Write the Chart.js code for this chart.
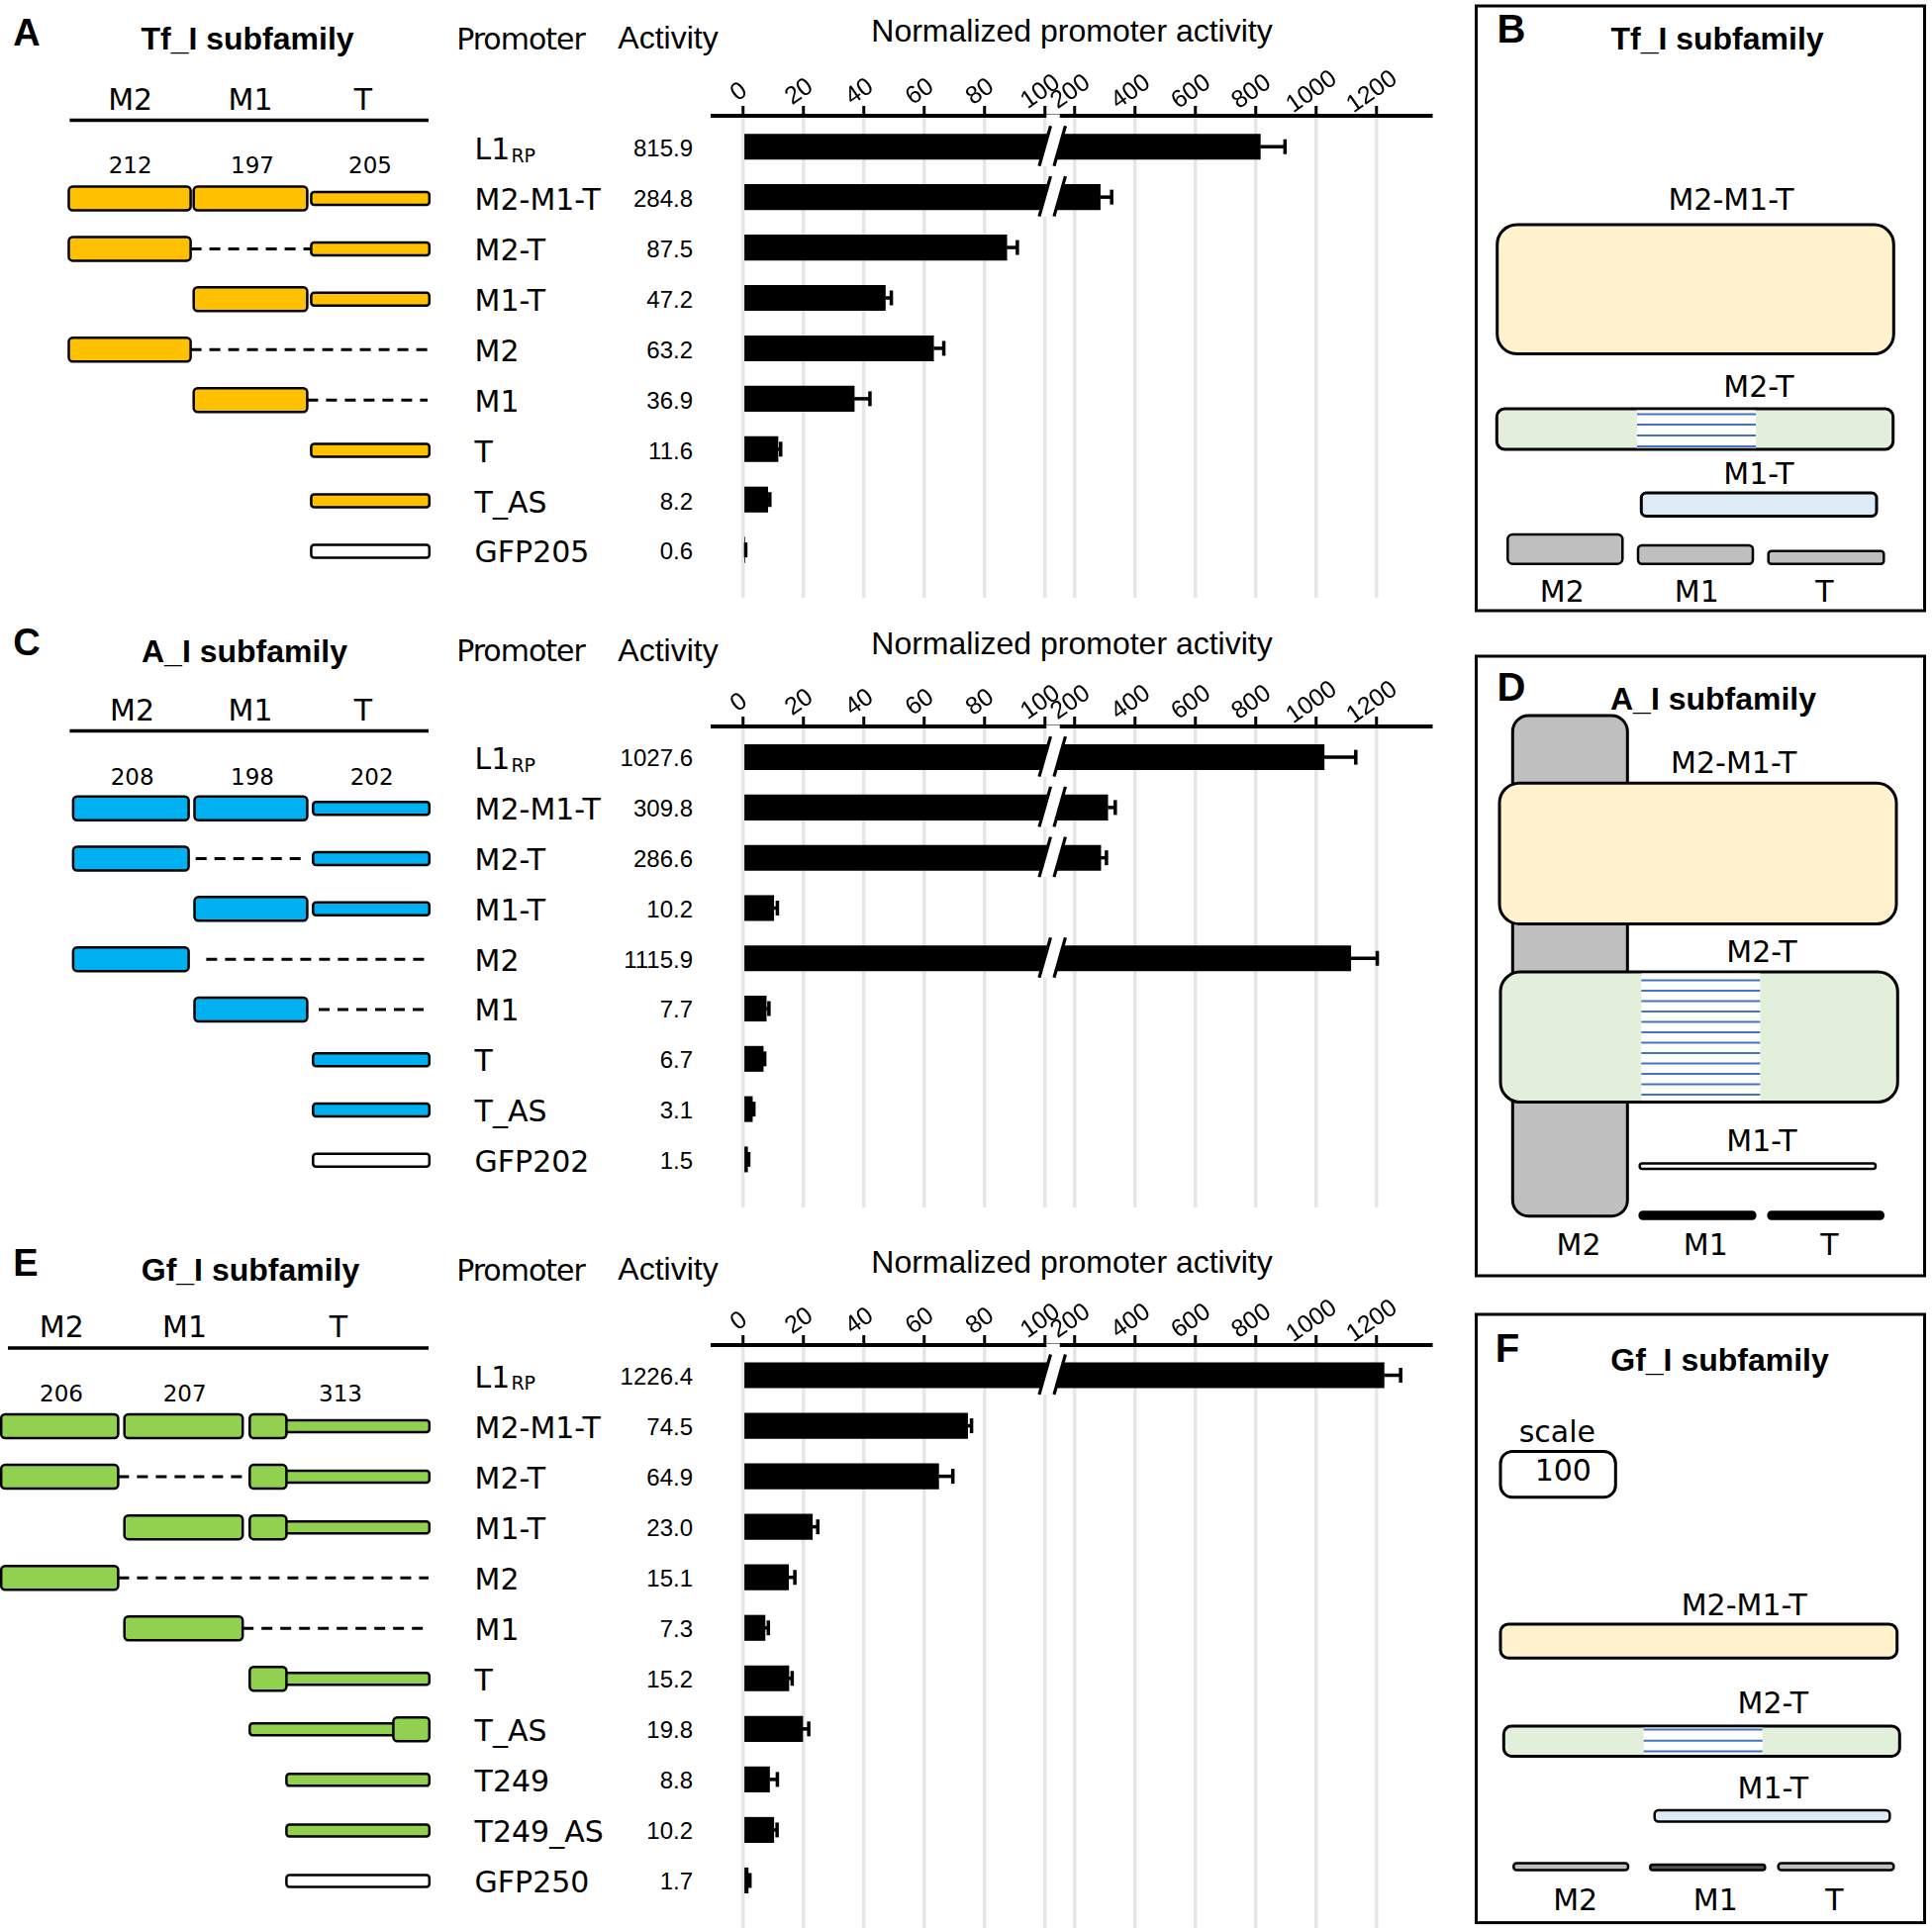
<!DOCTYPE html>
<html>
<head>
<meta charset="utf-8">
<title>Promoter activity of L1 subfamilies</title>
<script src="https://cdn.jsdelivr.net/npm/chart.js@4.4.1/dist/chart.umd.min.js"></script>
<style>
  html, body { margin:0; padding:0; background:#fff; }
  #page { position:relative; width:1952px; height:1948px; overflow:hidden; background:#fff; }
  #page svg { position:absolute; left:0; top:0; }
  #page canvas { position:absolute; }
</style>
</head>
<body>
<div id="page"><svg id="art" width="1952" height="1948" xmlns="http://www.w3.org/2000/svg"></svg></div>
<script>
// ------------------------- DATA -------------------------
const promotersA = ['L1RP','M2-M1-T','M2-T','M1-T','M2','M1','T','T_AS','GFP205'];
const activityA  = [815.9, 284.8, 87.5, 47.2, 63.2, 36.9, 11.6, 8.2, 0.6];
const errorA     = [82, 38, 3.5, 2, 3.4, 5.2, 0.9, 0.7, 0.3];

const promotersC = ['L1RP','M2-M1-T','M2-T','M1-T','M2','M1','T','T_AS','GFP202'];
const activityC  = [1027.6, 309.8, 286.6, 10.2, 1115.9, 7.7, 6.7, 3.1, 1.5];
const errorC     = [105, 25, 19, 1.2, 88, 0.9, 0.5, 0.5, 0.4];

const promotersE = ['L1RP','M2-M1-T','M2-T','M1-T','M2','M1','T','T_AS','T249','T249_AS','GFP250'];
const activityE  = [1226.4, 74.5, 64.9, 23.0, 15.1, 7.3, 15.2, 19.8, 8.8, 10.2, 1.7];
const errorE     = [55, 1.3, 4.7, 1.8, 2.1, 1.1, 1.1, 2, 2.6, 1.1, 0.6];

const tickValues = [0, 20, 40, 60, 80, 100, 200, 400, 600, 800, 1000, 1200];
const segNames = ['M2', 'M1', 'T'];
const segLengthsA = [212, 197, 205];
const segLengthsC = [208, 198, 202];
const segLengthsE = [206, 207, 313];
const scaleBoxValue = 100;

// ------------------------- BROKEN AXIS SCALE -------------------------
const BREAK_AT = 100, FACTOR = 10;
const LinearScale = Chart.registry.getScale('linear');
class BrokenScale extends LinearScale {
  _t(v) { return v <= BREAK_AT ? v * FACTOR : BREAK_AT * FACTOR + (v - BREAK_AT); }
  _ti(t) { return t <= BREAK_AT * FACTOR ? t / FACTOR : BREAK_AT + (t - BREAK_AT * FACTOR); }
  getPixelForValue(v) {
    if (v === null || v === undefined || isNaN(v)) return NaN;
    const t0 = this._t(this.min), t1 = this._t(this.max);
    return this.getPixelForDecimal((this._t(v) - t0) / (t1 - t0));
  }
  getValueForPixel(p) {
    const t0 = this._t(this.min), t1 = this._t(this.max);
    return this._ti(t0 + this.getDecimalForPixel(p) * (t1 - t0));
  }
}
BrokenScale.id = 'broken';
BrokenScale.defaults = LinearScale.defaults;
Chart.register(BrokenScale);

const SANS = "'Liberation Sans', Arial, Helvetica, sans-serif";
const VERD = "'DejaVu Sans', Verdana, sans-serif";

const decoPlugin = {
  id: 'deco',
  afterDatasetsDraw(chart) {
    const ctx = chart.ctx, xs = chart.scales.x;
    const meta = chart.getDatasetMeta(0);
    const ds = chart.data.datasets[0];
    const ca = chart.chartArea;
    const axisY = ca.top + 2;
    const pBreak = xs.getPixelForValue(BREAK_AT);
    ctx.save();
    // error bars
    ctx.strokeStyle = '#000';
    ctx.lineWidth = 3.5;
    meta.data.forEach((bar, i) => {
      const v = ds.data[i].x, e = ds.errors[i];
      const x0 = xs.getPixelForValue(v), x1 = xs.getPixelForValue(v + e);
      const y = bar.y;
      ctx.beginPath(); ctx.moveTo(x0, y); ctx.lineTo(x1, y); ctx.stroke();
      ctx.beginPath(); ctx.moveTo(x1, y - 7.5); ctx.lineTo(x1, y + 7.5); ctx.stroke();
    });
    // break marks on long bars
    const s = 0.284, up = 21, dn = 19.5, cx = pBreak + 7.7;
    meta.data.forEach((bar, i) => {
      if (ds.data[i].x <= BREAK_AT) return;
      const cy = bar.y;
      const L = [[cx - 7.5 - s * dn, cy + dn], [cx - 7.5 + s * up, cy - up]];
      const R = [[cx + 7.5 - s * dn, cy + dn], [cx + 7.5 + s * up, cy - up]];
      ctx.fillStyle = '#fff';
      ctx.beginPath();
      ctx.moveTo(L[0][0], L[0][1]); ctx.lineTo(L[1][0], L[1][1]);
      ctx.lineTo(R[1][0], R[1][1]); ctx.lineTo(R[0][0], R[0][1]);
      ctx.closePath(); ctx.fill();
      ctx.lineWidth = 3.2;
      ctx.beginPath(); ctx.moveTo(L[0][0], L[0][1]); ctx.lineTo(L[1][0], L[1][1]); ctx.stroke();
      ctx.beginPath(); ctx.moveTo(R[0][0], R[0][1]); ctx.lineTo(R[1][0], R[1][1]); ctx.stroke();
    });
    // gap in axis line
    ctx.fillStyle = '#fff';
    ctx.fillRect(pBreak + 2, axisY - 3.5, 13.5, 7);
    // rotated tick labels
    ctx.fillStyle = '#000';
    ctx.font = '25px ' + SANS;
    ctx.textAlign = 'center';
    ctx.textBaseline = 'middle';
    xs.ticks.forEach(t => {
      const x = xs.getPixelForValue(t.value);
      ctx.save();
      ctx.translate(x - 4, axisY - 26);
      ctx.rotate(-35 * Math.PI / 180);
      ctx.fillText(String(t.value), 0, 0);
      ctx.restore();
    });
    ctx.restore();
  }
};

const page = document.getElementById('page');
const PLOT_LEFT = 720, PLOT_W = 726;
function buildChart(values, errors, g) {
  const W = 860, padL = 120, padTop = 70;
  const top = g.axisY - 2;
  const areaH = g.bottom - top;
  const H = Math.round(padTop + 10 + areaH);
  const canvas = document.createElement('canvas');
  canvas.width = W; canvas.height = H;
  canvas.style.width = W + 'px'; canvas.style.height = H + 'px';
  page.appendChild(canvas);
  const ymin = -(g.row0 - top) / g.spacing;
  const chart = new Chart(canvas, {
    type: 'bar',
    data: {
      datasets: [{
        data: values.map((v, i) => ({ x: v, y: i })),
        errors: errors,
        backgroundColor: '#000',
        borderWidth: 0,
        barThickness: g.spacing * 0.5
      }]
    },
    options: {
      indexAxis: 'y',
      responsive: false,
      maintainAspectRatio: false,
      animation: false,
      devicePixelRatio: 1,
      events: [],
      layout: { padding: { left: padL, right: W - padL - PLOT_W, top: padTop, bottom: 0 } },
      plugins: { legend: { display: false }, tooltip: { enabled: false } },
      scales: {
        x: {
          type: 'broken', position: 'top',
          min: -10.08, max: 1382.7,
          afterBuildTicks: sc => { sc.ticks = tickValues.map(v => ({ value: v })); },
          grid: { color: '#e6e6e6', lineWidth: 3.5, tickColor: '#000', tickWidth: 3, tickLength: 10, drawOnChartArea: true },
          border: { color: '#000', width: 4 },
          ticks: { display: false }
        },
        y: {
          type: 'linear', display: false, reverse: true, offset: false, bounds: 'data',
          grid: { offset: false },
          min: ymin, max: ymin + areaH / g.spacing
        }
      }
    },
    plugins: [decoPlugin]
  });
  const ca = chart.chartArea;
  const realH = ca.bottom - ca.top;
  if (Math.abs(realH - areaH) > 0.5) {
    chart.options.scales.y.max = ymin + realH / g.spacing;
    chart.update();
  }
  const offX = PLOT_LEFT - chart.chartArea.left;
  const offY = top - chart.chartArea.top;
  canvas.style.left = offX + 'px';
  canvas.style.top = offY + 'px';
  return i => offY + chart.scales.y.getPixelForValue(i);
}

// ------------------------- SVG HELPERS -------------------------
const NS = 'http://www.w3.org/2000/svg';
const art = document.getElementById('art');
function el(tag, attrs) {
  const e = document.createElementNS(NS, tag);
  for (const k in attrs) e.setAttribute(k, attrs[k]);
  art.appendChild(e);
  return e;
}
function text(x, y, str, size, o = {}) {
  const t = el('text', {
    x, y, 'font-size': size, 'font-family': o.family || VERD,
    'font-weight': o.weight || 'normal', 'text-anchor': o.anchor || 'middle',
    'dominant-baseline': 'central', fill: '#000'
  });
  if (o.ls) t.setAttribute('letter-spacing', o.ls);
  t.textContent = str;
  return t;
}
function rbox(x, y, w, h, r, fill, sw) {
  return el('rect', { x, y, width: w, height: h, rx: r, ry: r, fill, stroke: '#000', 'stroke-width': sw || 2.5 });
}
function dash(x1, x2, y) {
  el('line', { x1, y1: y, x2, y2: y, stroke: '#000', 'stroke-width': 3, 'stroke-dasharray': '11 8' });
}
function promoterLabel(x, y, name) {
  if (name === 'L1RP') {
    const t = text(x, y, 'L1', 30, { anchor: 'start' });
    const w = t.getComputedTextLength();
    text(x + w + 1, y + 6, 'RP', 19, { anchor: 'start' });
  } else {
    text(x, y, name, 30, { anchor: 'start' });
  }
}

// ------------------------- LEFT PANELS -------------------------
function leftPanel(p) {
  const rowY = buildChart(p.values, p.errors, p.geom);
  // headers
  text(p.letter.x, p.letter.y, p.letter.s, 38, { family: SANS, weight: 'bold' });
  text(p.title.x, p.title.y, p.title.s, 32, { family: SANS, weight: 'bold' });
  text(526, p.hdrY, 'Promoter', 30, { ls: -1 });
  text(675, p.hdrY - 1, 'Activity', 32, { family: SANS });
  text(1083, p.hdrY - 8, 'Normalized promoter activity', 32, { family: SANS });
  // segment header
  el('line', { x1: p.line.x1, y1: p.line.y, x2: 433, y2: p.line.y, stroke: '#000', 'stroke-width': 3.5 });
  segNames.forEach((n, k) => text(p.segLabelX[k], p.line.y - 21, n, 30));
  p.lengths.forEach((L, k) => text(p.segNumX[k], p.line.y + 46, String(L), 23));
  // rows
  p.names.forEach((name, i) => {
    const y = rowY(i);
    promoterLabel(479.6, y + 2, name);
    text(700, y + 1, p.values[i].toFixed(1), 24, { family: SANS, anchor: 'end' });
    const sy = y + 1;
    (p.rows[i] || []).forEach(part => {
      if (Array.isArray(part)) { dash(part[0], part[1], sy); return; }
      const seg = p.seg;
      const big = 24, thin = 13;
      if (part === 'M2' || part === 'M1') {
        rbox(seg[part][0], sy - big / 2, seg[part][1] - seg[part][0], big, 4, p.color);
      } else if (part === 'T') {
        if (seg.Tk) {
          rbox(seg.Tk[1] - 3, sy - 6, seg.T[1] - seg.Tk[1] + 3, 12, 3, p.color);
          rbox(seg.Tk[0], sy - big / 2, seg.Tk[1] - seg.Tk[0], big, 4, p.color);
        } else {
          rbox(seg.T[0], sy - thin / 2, seg.T[1] - seg.T[0], thin, 3, p.color);
        }
      } else if (part === 'Tw') {
        rbox(seg.T[0], sy - thin / 2, seg.T[1] - seg.T[0], thin, 3, '#fff');
      } else if (part === 'TAS') {
        rbox(seg.Tk[0], sy - 6, 150, 12, 3, p.color);
        rbox(397.4, sy - big / 2, seg.T[1] - 397.4, big, 4, p.color);
      } else if (part === 'T249') {
        rbox(seg.Tk[1], sy - 6, seg.T[1] - seg.Tk[1], 12, 3, p.color);
      } else if (part === 'T249w') {
        rbox(seg.Tk[1], sy - 6, seg.T[1] - seg.Tk[1], 12, 3, '#fff');
      }
    });
  });
}

leftPanel({
  values: activityA, errors: errorA, names: promotersA, lengths: segLengthsA,
  geom: { axisY: 119.3, row0: 148.5, spacing: 50.9, bottom: 604 },
  letter: { x: 27, y: 33, s: 'A' }, title: { x: 250, y: 39, s: 'Tf_I subfamily' }, hdrY: 39,
  line: { x1: 70.4, y: 121.4 }, segLabelX: [131.7, 253, 367], segNumX: [131.7, 255, 374],
  color: '#FFC000',
  seg: { M2: [69.5, 192.6], M1: [195.7, 310.4], T: [314.4, 433.8] },
  rows: [[], ['M2', 'M1', 'T'], ['M2', [192.6, 314.4], 'T'], ['M1', 'T'], ['M2', [192.6, 432]],
         ['M1', [310.4, 432]], ['T'], ['T'], ['Tw']]
});
leftPanel({
  values: activityC, errors: errorC, names: promotersC, lengths: segLengthsC,
  geom: { axisY: 735.9, row0: 765, spacing: 50.8, bottom: 1220 },
  letter: { x: 27, y: 649, s: 'C' }, title: { x: 247, y: 657.6, s: 'A_I subfamily' }, hdrY: 657.6,
  line: { x1: 70.4, y: 738.6 }, segLabelX: [133.6, 253, 367], segNumX: [133.6, 255, 375.6],
  color: '#00B0F0',
  seg: { M2: [73.9, 190.6], M1: [196.5, 310.4], T: [316.3, 433.8] },
  rows: [[], ['M2', 'M1', 'T'], ['M2', [197.7, 309], 'T'], ['M1', 'T'], ['M2', [208.4, 433]],
         ['M1', [322, 433]], ['T'], ['T'], ['Tw']]
});
leftPanel({
  values: activityE, errors: errorE, names: promotersE, lengths: segLengthsE,
  geom: { axisY: 1360.5, row0: 1389, spacing: 51.0, bottom: 1948 },
  letter: { x: 26, y: 1276, s: 'E' }, title: { x: 253, y: 1283, s: 'Gf_I subfamily' }, hdrY: 1283,
  line: { x1: 8, y: 1361.9 }, segLabelX: [62.3, 186.6, 342], segNumX: [62, 186.6, 344],
  color: '#92D050',
  seg: { M2: [1.2, 119.4], M1: [125.7, 245.2], Tk: [252.3, 289.4], T: [252.3, 433.8] },
  rows: [[], ['M2', 'M1', 'T'], ['M2', [119.4, 252.3], 'T'], ['M1', 'T'], ['M2', [119.4, 433]],
         ['M1', [245.2, 433]], ['T'], ['TAS'], ['T249'], ['T249'], ['T249w']]
});

// ------------------------- RIGHT PANELS (B, D, F) -------------------------
const YEL = '#FFF2CC', GRN = '#E2EFDA', BLU = '#DDEBF7', GRY = '#BFBFBF', STR = '#4472C4';
function frame(y1, y2) { el('rect', { x: 1491.5, y: y1, width: 453, height: y2 - y1, fill: 'none', stroke: '#000', 'stroke-width': 3 }); }
function striped(x1, x2, y1, y2, ys) {
  el('rect', { x: x1, y: y1, width: x2 - x1, height: y2 - y1, fill: '#fff' });
  ys.forEach(y => el('line', { x1, y1: y, x2, y2: y, stroke: STR, 'stroke-width': 2 }));
}

// Panel B
frame(6, 617);
text(1527, 29, 'B', 40, { family: SANS, weight: 'bold' });
text(1735, 39, 'Tf_I subfamily', 32, { family: SANS, weight: 'bold' });
text(1749, 201, 'M2-M1-T', 30);
rbox(1512.7, 227, 400.6, 130.6, 20, YEL, 3);
text(1777, 390, 'M2-T', 30);
rbox(1512.3, 413, 400.4, 41, 8, GRN, 3);
striped(1654, 1774, 414.5, 452.5, [418.6, 429, 440, 451]);
text(1777, 478, 'M1-T', 30);
rbox(1658.3, 498, 237.7, 23.5, 5, BLU, 3);
rbox(1523.3, 540, 116, 29.7, 5, GRY, 2.5);
rbox(1655, 551, 116, 18.7, 4, GRY, 2.5);
rbox(1786.7, 556.8, 116.6, 12.9, 3, GRY, 2.5);
text(1578.3, 597, 'M2', 30); text(1714.3, 597, 'M1', 30); text(1843.3, 597, 'T', 30);

// Panel D
frame(663, 1289);
text(1527, 694, 'D', 40, { family: SANS, weight: 'bold' });
text(1731, 706.3, 'A_I subfamily', 32, { family: SANS, weight: 'bold' });
rbox(1528.3, 723, 116, 505.7, 16, GRY, 3);
text(1751.7, 770.6, 'M2-M1-T', 30);
rbox(1515, 791.3, 401, 142.2, 20, YEL, 3);
text(1780, 961.3, 'M2-T', 30);
rbox(1516, 982, 401.3, 131.5, 20, GRN, 3);
striped(1658.3, 1778.3, 983.5, 1112, Array.from({ length: 12 }, (_, k) => 990.5 + k * 10.5));
text(1780, 1152, 'M1-T', 30);
rbox(1656.7, 1175.6, 238.3, 5.4, 2.5, '#fff', 2.5);
rbox(1656.7, 1224.5, 116.6, 7, 3, '#000', 0);
rbox(1786.7, 1224.5, 116, 7, 3, '#000', 0);
text(1595, 1257, 'M2', 30); text(1723.3, 1257, 'M1', 30); text(1848.3, 1257, 'T', 30);

// Panel F
frame(1328, 1942.6);
text(1523, 1362, 'F', 40, { family: SANS, weight: 'bold' });
text(1737.5, 1374.4, 'Gf_I subfamily', 32, { family: SANS, weight: 'bold' });
text(1573.3, 1446.7, 'scale', 30);
rbox(1516, 1466.5, 116.3, 46.3, 12, '#fff', 3);
text(1579.3, 1485, String(scaleBoxValue), 30);
text(1762.3, 1621.5, 'M2-M1-T', 30);
rbox(1516, 1641, 400.7, 34.2, 8, YEL, 3);
text(1791.3, 1720.7, 'M2-T', 30);
rbox(1519.3, 1744, 400, 30.4, 8, GRN, 3);
striped(1660.7, 1780.7, 1745.5, 1773, [1747.5, 1758.7, 1769.5]);
text(1791.3, 1806.2, 'M1-T', 30);
rbox(1671.7, 1829, 237.6, 11.5, 4, BLU, 2.5);
rbox(1529.3, 1882.6, 115.7, 7, 3, GRY, 2.5);
rbox(1667.3, 1884, 116, 5.5, 2.5, '#555', 2.5);
rbox(1796.7, 1882.6, 116.6, 7, 3, GRY, 2.5);
text(1591.7, 1919, 'M2', 30); text(1733.3, 1919, 'M1', 30); text(1853.3, 1919, 'T', 30);
</script>
</body>
</html>
